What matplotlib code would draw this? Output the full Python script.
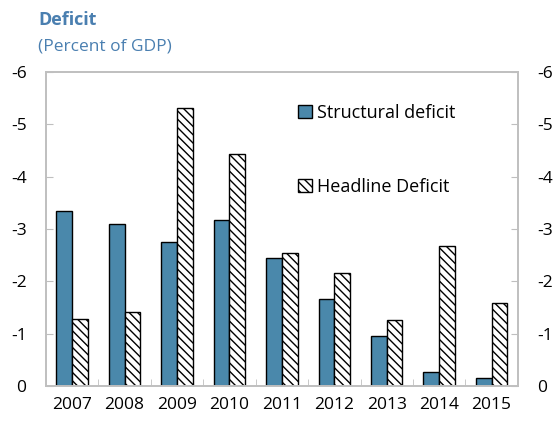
import numpy as np
import matplotlib
matplotlib.use("Agg")
import matplotlib.pyplot as plt

plt.rcParams["font.family"] = ["Open Sans", "DejaVu Sans"]
plt.rcParams["axes.unicode_minus"] = False
plt.rcParams["hatch.linewidth"] = 1.0

years = ["2007", "2008", "2009", "2010", "2011", "2012", "2013", "2014", "2015"]
structural = [-3.35, -3.10, -2.75, -3.17, -2.45, -1.66, -0.96, -0.27, -0.16]
headline = [-1.28, -1.42, -5.32, -4.44, -2.54, -2.16, -1.26, -2.68, -1.59]

blue = "#4A88AB"
title_col = "#4A7FB0"
grey = "#BFBFBF"

fig = plt.figure(figsize=(5.58, 4.24), dpi=100)
ax = fig.add_axes([0.0824, 0.0896, 0.8456, 0.7406])

x = np.arange(len(years))
w = 0.3
ax.bar(x - w / 2, structural, w, color=blue, edgecolor="black", linewidth=1.0,
       label="Structural deficit")
ax.bar(x + w / 2, headline, w, color="white", edgecolor="black", linewidth=1.0,
       hatch="\\\\\\\\", label="Headline Deficit")

ax.set_xlim(-0.5, len(years) - 0.5)
ax.set_ylim(0, -6)
ax.set_yticks(range(0, -7, -1))
ax.set_xticks(x)
ax.set_xticklabels(years, fontsize=12.5)
ax.set_xticks(np.arange(0.5, len(years) - 0.5, 1), minor=True)
ax.tick_params(axis="x", which="major", length=0, pad=8)
ax.tick_params(axis="x", which="minor", length=5, direction="in", color=grey)
ax.tick_params(axis="y", direction="in", length=5, color=grey, labelsize=12.5, pad=14)

ax2 = ax.twinx()
ax2.set_ylim(0, -6)
ax2.set_yticks(range(0, -7, -1))
ax2.tick_params(axis="y", direction="in", length=5, color=grey, labelsize=12.5, pad=14)

for a in (ax, ax2):
    for s in a.spines.values():
        s.set_color(grey)
        s.set_linewidth(1.2)

ax.legend(loc="upper left", bbox_to_anchor=(0.50, 0.95), frameon=False,
          fontsize=13, handlelength=0.75, handleheight=0.75, handletextpad=0.3,
          labelspacing=3.1)

fig.text(0.068, 0.94, "Deficit", fontsize=13, fontweight="bold", color=title_col)
fig.text(0.068, 0.882, "(Percent of GDP)", fontsize=12.5, color=title_col)

fig.savefig("out.png", dpi=100)
